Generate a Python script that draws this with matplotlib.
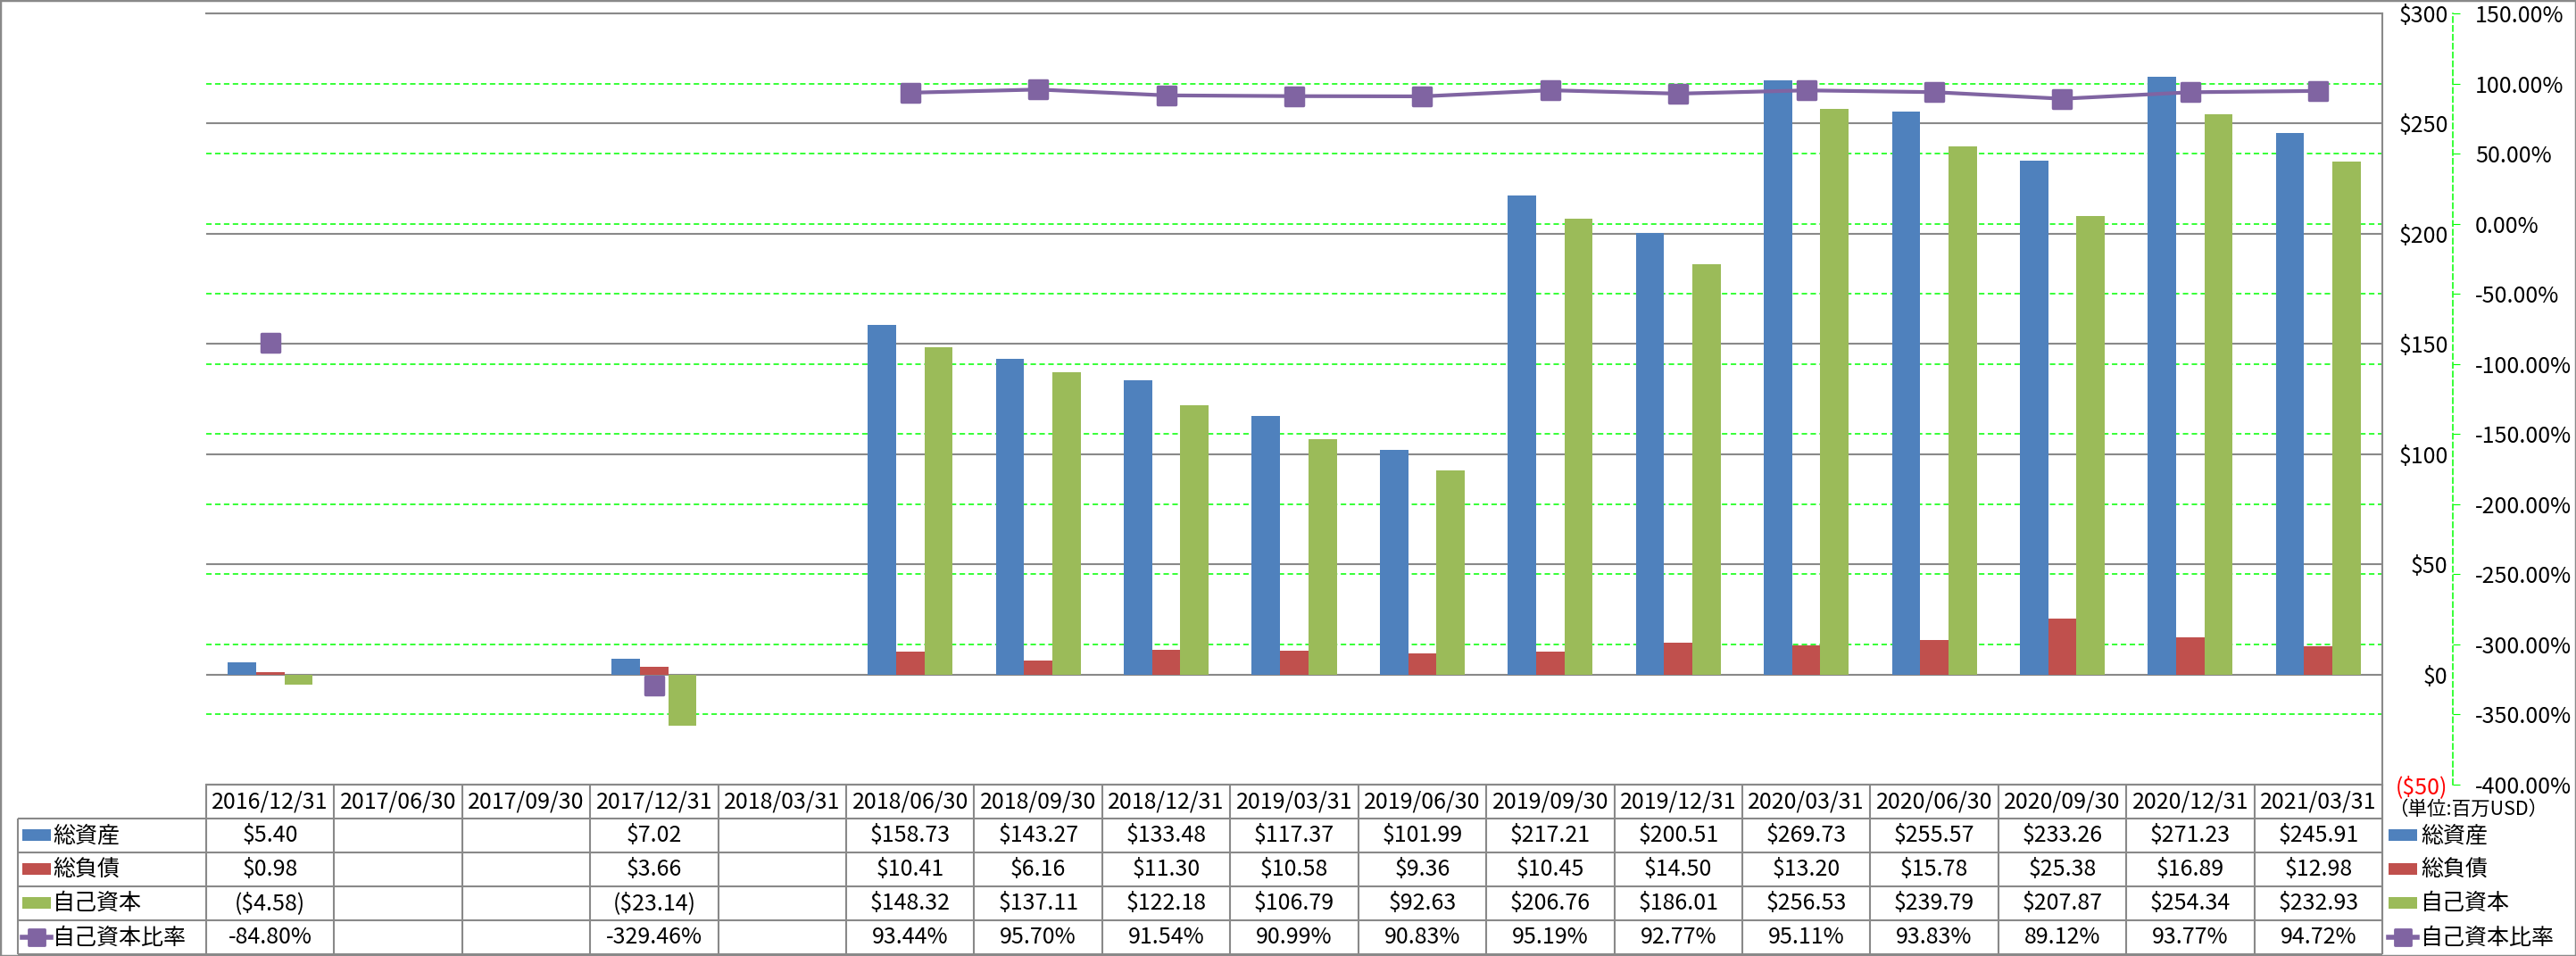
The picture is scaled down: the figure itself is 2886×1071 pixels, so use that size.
import matplotlib.pyplot as plt
from matplotlib.patches import Rectangle
from matplotlib.lines import Line2D
from matplotlib.markers import MarkerStyle
import numpy as np

plt.rcParams['font.family'] = ['Noto Sans CJK JP', 'DejaVu Sans']

dates = ["2016/12/31", "2017/06/30", "2017/09/30", "2017/12/31", "2018/03/31",
         "2018/06/30", "2018/09/30", "2018/12/31", "2019/03/31", "2019/06/30",
         "2019/09/30", "2019/12/31", "2020/03/31", "2020/06/30", "2020/09/30",
         "2020/12/31", "2021/03/31"]
total_assets = [5.40, None, None, 7.02, None, 158.73, 143.27, 133.48, 117.37, 101.99,
                217.21, 200.51, 269.73, 255.57, 233.26, 271.23, 245.91]
total_liab = [0.98, None, None, 3.66, None, 10.41, 6.16, 11.30, 10.58, 9.36,
              10.45, 14.50, 13.20, 15.78, 25.38, 16.89, 12.98]
equity = [-4.58, None, None, -23.14, None, 148.32, 137.11, 122.18, 106.79, 92.63,
          206.76, 186.01, 256.53, 239.79, 207.87, 254.34, 232.93]
equity_ratio = [-84.80, None, None, -329.46, None, 93.44, 95.70, 91.54, 90.99, 90.83,
                95.19, 92.77, 95.11, 93.83, 89.12, 93.77, 94.72]
series_names = ["総資産", "総負債", "自己資本", "自己資本比率"]
unit_note = "（単位:百万USD）"

BLUE, RED, GREEN, PURPLE = "#4F81BD", "#C0504D", "#9BBB59", "#8064A2"
GRAY = "#898989"
LIME = "#00FF00"
FS = 18


def arr(v):
    return np.array([np.nan if a is None else a for a in v], dtype=float)


def money(v):
    if np.isnan(v):
        return ""
    return f"(${-v:.2f})" if v < 0 else f"${v:.2f}"


def pct(v):
    return "" if np.isnan(v) else f"{v:.2f}%"


W, H = 2886, 1071
L, R, T, B = 231, 2669, 15, 879
n = len(dates)
x = np.arange(n)
ta, tl, eq, er = arr(total_assets), arr(total_liab), arr(equity), arr(equity_ratio)

fig = plt.figure(figsize=(W / 100, H / 100), dpi=100)
rect = [L / W, 1 - B / H, (R - L) / W, (B - T) / H]

# secondary grid behind everything
axg = fig.add_axes(rect, zorder=0)
axg.set_xlim(-0.5, n - 0.5)
axg.set_ylim(-400, 150)
axg.set_yticks(range(-400, 151, 50))
axg.set_xticks([])
axg.tick_params(left=False, labelleft=False)
axg.grid(axis="y", color=LIME, ls=(0, (4, 2.5)), lw=1.1)
for s in axg.spines.values():
    s.set_visible(False)

# bars
ax = fig.add_axes(rect, zorder=1)
ax.patch.set_visible(False)
bw = 0.221
ax.bar(x - bw, ta, bw, color=BLUE, zorder=3)
ax.bar(x, tl, bw, color=RED, zorder=3)
ax.bar(x + bw, eq, bw, color=GREEN, zorder=3)
ax.set_xlim(-0.5, n - 0.5)
ax.set_ylim(-50, 300)
ax.set_yticks(range(-50, 301, 50))
ax.set_yticklabels([f"(${-v})" if v < 0 else f"${v}" for v in range(-50, 301, 50)])
ax.set_xticks([])
ax.yaxis.tick_right()
ax.tick_params(axis="y", length=0, pad=53, labelsize=FS)
for lab in ax.get_yticklabels():
    lab.set_horizontalalignment("right")
    if lab.get_text().startswith("("):
        lab.set_color("red")
ax.grid(axis="y", color=GRAY, lw=1.5, zorder=0)
ax.spines["left"].set_visible(False)
for s in ["top", "right", "bottom"]:
    ax.spines[s].set_color(GRAY)
    ax.spines[s].set_linewidth(1.5)

# ratio line
ax2 = fig.add_axes(rect, zorder=2, sharex=ax)
ax2.patch.set_visible(False)
mk = MarkerStyle("s", joinstyle="round")
ax2.plot(x, er, color=PURPLE, lw=3, marker=mk, ms=15, mec=PURPLE, mew=2.5, zorder=5)
ax2.set_ylim(-400, 150)
ax2.set_yticks(range(-400, 151, 50))
ax2.set_yticklabels([f"{v:.2f}%" for v in range(-400, 151, 50)])
ax2.yaxis.tick_right()
ax2.tick_params(axis="y", length=6, color=LIME, pad=12, labelsize=FS)
for lab, v in zip(ax2.get_yticklabels(), range(-400, 151, 50)):
    if v < 0:
        lab.set_color("red")
for s in ["top", "left", "bottom"]:
    ax2.spines[s].set_visible(False)
ax2.spines["right"].set_position(("outward", 79 * 0.72))
ax2.spines["right"].set_color(LIME)
ax2.spines["right"].set_linestyle((0, (4, 2.5)))
ax2.spines["right"].set_linewidth(1.1)

# data table + legend, x in category units, y in pixels from top
w = (R - L) / n
tab = fig.add_axes([0, 0, 1, 1 - B / H], zorder=3)
tab.patch.set_visible(False)
tab.set_xlim(-0.5 - L / w, n - 0.5 + (W - R) / w)
tab.set_ylim(H, B)
tab.axis("off")


def px(p):
    return -0.5 - (L - p) / w


rows = np.linspace(B, H - 1.5, 6)
xl = px(20)
lk = dict(color=GRAY, lw=1.5, solid_capstyle="butt")
tab.plot([-0.5, n - 0.5], [rows[0], rows[0]], **lk)
for yy in rows[1:]:
    tab.plot([xl, n - 0.5], [yy, yy], **lk)
for i in range(n + 1):
    tab.plot([i - 0.5, i - 0.5], [rows[0], rows[-1]], **lk)
tab.plot([xl, xl], [rows[1], rows[-1]], **lk)
tab.plot([n - 0.5, n - 0.5], [rows[0], rows[-1]], **lk)

mid = (rows[:-1] + rows[1:]) / 2
for i, d in enumerate(dates):
    tab.text(i, mid[0], d, ha="center", va="center", fontsize=FS)
table_rows = [[money(v) for v in ta], [money(v) for v in tl],
              [money(v) for v in eq], [pct(v) for v in er]]
for r, vals in enumerate(table_rows):
    for i, s in enumerate(vals):
        tab.text(i, mid[r + 1], s, ha="center", va="center", fontsize=FS)

colors = [BLUE, RED, GREEN]


def key(x0, x1, yc, k):
    if k < 3:
        tab.add_patch(Rectangle((px(x0), yc - 7), px(x1) - px(x0), 13, color=colors[k], lw=0))
    else:
        tab.add_line(Line2D([px(x0), px(x1)], [yc, yc], color=PURPLE, lw=4))
        tab.add_line(Line2D([px((x0 + x1) / 2)], [yc], color=PURPLE, marker=mk,
                            ms=13, mec=PURPLE, mew=2))


for k, name in enumerate(series_names):
    yc = mid[k + 1]
    key(25, 57, yc, k)
    tab.text(px(59), yc, name, ha="left", va="center", fontsize=FS)
    key(2676, 2708, yc, k)
    tab.text(px(2712), yc, name, ha="left", va="center", fontsize=FS)

tab.text(px(2676), 907, unit_note, ha="left", va="center", fontsize=15.5)

fig.add_artist(Rectangle((0, 0), 1, 1, transform=fig.transFigure, fill=False,
                         ec=GRAY, lw=2.5))

fig.savefig("out.png", dpi=100)
